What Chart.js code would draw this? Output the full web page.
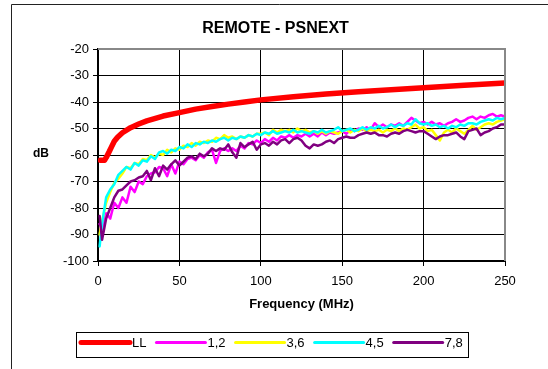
<!DOCTYPE html>
<html>
<head>
<meta charset="utf-8">
<script src="https://cdn.jsdelivr.net/npm/chart.js@4.4.1/dist/chart.umd.min.js"></script>
<style>
  html, body { margin: 0; padding: 0; background: #fff; }
  #wrap { width: 548px; height: 369px; }
</style>
</head>
<body>
<div id="wrap"><canvas id="psnextChart" width="548" height="369"></canvas></div>
<script>
// limit line (LL)
const llFreq = [1.5, 2, 3, 4, 5, 6, 7, 8, 10, 12, 15, 20, 25, 30, 40, 50, 60, 70, 80, 90, 100, 120, 140, 160, 180, 200, 225, 250];
const llValues = [-62, -62, -62, -62, -61, -59.8, -58.6, -57.3, -54.8, -53.3, -51.6, -49.7, -48.3, -47.1, -45.3, -44, -42.7, -41.7, -40.8, -40, -39.2, -38, -37, -36.1, -35.4, -34.6, -33.7, -32.8];

// measured pairs, one point every 2.5 MHz
const freq = [1, 2.5, 5, 7.5, 10, 12.5, 15, 17.5, 20, 22.5, 25, 27.5, 30, 32.5, 35, 37.5, 40, 42.5, 45, 47.5,
  50, 52.5, 55, 57.5, 60, 62.5, 65, 67.5, 70, 72.5, 75, 77.5, 80, 82.5, 85, 87.5, 90, 92.5, 95, 97.5,
  100, 102.5, 105, 107.5, 110, 112.5, 115, 117.5, 120, 122.5, 125, 127.5, 130, 132.5, 135, 137.5, 140, 142.5, 145, 147.5,
  150, 152.5, 155, 157.5, 160, 162.5, 165, 167.5, 170, 172.5, 175, 177.5, 180, 182.5, 185, 187.5, 190, 192.5, 195, 197.5,
  200, 202.5, 205, 207.5, 210, 212.5, 215, 217.5, 220, 222.5, 225, 227.5, 230, 232.5, 235, 237.5, 240, 242.5, 245, 247.5, 250];

const pair12 = [-86, -88, -82, -84, -78, -80, -76, -78, -72, -74, -70, -71, -68, -67, -66.5, -64.5, -65, -68, -63.5, -67,
  -62.5, -63.5, -61.5, -61, -62, -60, -61, -59, -58, -63, -58.5, -57.5, -58.5, -57.5, -58.5, -56.5, -57.5, -55.5, -56, -54.5,
  -55.5, -54, -55, -53.5, -54.5, -53, -53.5, -52.5, -53.5, -52.5, -53, -52, -53, -52, -53, -51.5, -52.5, -51.5, -52, -51.5,
  -51, -52, -50.5, -51, -50, -50.5, -49.5, -50.5, -48, -49.5, -48.5, -49.5, -48.5, -49, -48, -49, -47.5, -46, -47, -48,
  -47.5, -48.5, -47.5, -48.5, -48, -49, -48, -47.5, -46.5, -47.5, -47, -46, -45.5, -46.5, -45.5, -46, -45, -44.5, -45.5, -45, -45.5];

const pair36 = [-90, -85, -78, -74, -70.5, -69, -67, -64.5, -65, -63, -63.5, -61.5, -62, -60, -61, -59.5, -60, -58, -59, -57.5,
  -58, -56.5, -57, -55.5, -56.5, -55, -55.5, -54.5, -55, -53.5, -54, -52.5, -53.5, -53, -54, -53, -53.5, -52.5, -53, -52,
  -52, -51.5, -52.5, -50.5, -51.5, -50.5, -51, -50.5, -51.5, -50, -51, -50.5, -51.5, -51, -52, -51, -52, -51, -51.5, -52,
  -51, -50.5, -51.5, -50.5, -51, -50, -51, -50.5, -51, -50.5, -51.5, -50.5, -51, -50, -51, -50, -50.5, -49.5, -48.5, -50,
  -49.5, -51, -50.5, -52.5, -54.5, -51.5, -50.5, -51.5, -50, -51, -52, -50.5, -49, -50.5, -49.5, -48.5, -48, -48.5, -47.5, -47, -46.5];

const pair45 = [-94.5, -86, -76, -73, -71, -67.5, -66, -64.5, -65.5, -63, -64, -62, -62.5, -60.5, -61.5, -59, -58.5, -59.5, -58, -58.5,
  -57, -57.5, -56, -57, -55.5, -56, -55, -55.5, -54.5, -55, -54, -53.5, -54.5, -53.5, -54, -53, -53.5, -52.5, -53, -52,
  -52.5, -51.5, -52, -51, -52, -51.5, -51, -51.5, -50.5, -51.5, -51, -51.5, -52, -51, -51.5, -50.5, -51.5, -51, -50.5, -49.5,
  -51, -50.5, -50, -51, -50.5, -49.5, -50.5, -49.5, -50, -49, -50, -49.5, -48.5, -49.5, -48.5, -49, -48, -48.5, -46.5, -48,
  -48.5, -48, -49, -48.5, -49.5, -49, -50, -49, -49.5, -48.5, -49, -48, -48, -48.5, -47.5, -47, -46.5, -47, -46, -46.5, -46];

const pair78 = [-83, -92, -84, -80, -76, -73.5, -73, -71.5, -70, -69.5, -68.5, -68, -66, -69.5, -65, -68, -64, -65.5, -63.5, -62,
  -64, -62.5, -61, -60.5, -61.5, -59.5, -60.5, -59.5, -57.5, -58.5, -57.5, -58, -56, -59, -61, -55.5, -57, -56, -55, -58,
  -56, -55.5, -56.5, -55, -56, -54.5, -54, -55.5, -54, -53.5, -54.5, -56.5, -57.5, -56, -56.5, -56, -55, -54.5, -55.5, -54,
  -53.5, -53, -53.5, -53.5, -52.5, -52, -51.5, -52, -51.5, -52.5, -52.5, -53, -52, -51.5, -52, -51, -50.5, -51, -51.5, -51,
  -51, -52, -53, -54, -53, -52.5, -52.5, -52, -51.5, -53, -54, -51, -50.5, -50, -52.5, -51.5, -51, -50, -49.5, -48.5, -48.5];

const yTicks = [-100, -90, -80, -70, -60, -50, -40, -30, -20];
const xTicks = [0, 50, 100, 150, 200, 250];

const seriesLabels = ['LL', '1,2', '3,6', '4,5', '7,8'];
const seriesColors = ['#ff0000', '#ff00ff', '#ffff00', '#00ffff', '#800080'];

const FONT = 'Arial, "Liberation Sans", sans-serif';

function toPoints(xs, ys) {
  return xs.map((x, i) => ({ x: x, y: ys[i] }));
}

const seriesData = [
  toPoints(llFreq, llValues),
  toPoints(freq, pair12),
  toPoints(freq, pair36),
  toPoints(freq, pair45),
  toPoints(freq, pair78)
];

const datasets = seriesData.map((pts, i) => ({
  label: seriesLabels[i],
  data: pts,
  borderColor: seriesColors[i],
  backgroundColor: seriesColors[i],
  borderWidth: i === 0 ? 5.5 : 2.5,
  borderCapStyle: 'round',
  borderJoinStyle: 'round',
  pointRadius: 0,
  tension: 0,
  fill: false,
  order: seriesLabels.length - i // later pairs drawn on top
}));

// frame, titles, plot border and the boxed legend
const decorations = {
  id: 'decorations',
  beforeDraw(chart) {
    const c = chart.ctx;
    c.save();
    c.fillStyle = '#fff';
    c.fillRect(0, 0, chart.width, chart.height);
    c.restore();
  },
  afterDraw(chart) {
    const c = chart.ctx;
    const area = chart.chartArea;
    c.save();
    // outer frame
    c.strokeStyle = '#222';
    c.lineWidth = 1;
    c.beginPath();
    c.moveTo(11.5, chart.height);
    c.lineTo(11.5, 4.5);
    c.lineTo(chart.width, 4.5);
    c.stroke();

    // gray top / right edge of the plot
    c.strokeStyle = '#888';
    c.lineWidth = 2;
    c.beginPath();
    c.moveTo(area.left, area.top);
    c.lineTo(area.right, area.top);
    c.lineTo(area.right, area.bottom);
    c.stroke();

    c.fillStyle = '#000';
    c.textAlign = 'center';
    c.textBaseline = 'middle';

    // chart title
    c.font = 'bold 16px ' + FONT;
    c.fillText('REMOTE - PSNEXT', 275.5, 29);

    // y-axis title, kept horizontal
    c.font = 'bold 12px ' + FONT;
    c.fillText('dB', 41, 154);

    // legend
    c.strokeStyle = '#000';
    c.lineWidth = 1;
    c.strokeRect(76.5, 332.5, 392, 25);
    c.font = '13px ' + FONT;
    c.textAlign = 'left';
    let x = 81;
    const y = 342.5;
    chart.data.datasets.forEach((ds) => {
      c.strokeStyle = ds.borderColor;
      c.lineWidth = ds.borderWidth === 2.5 ? 3 : 5;
      c.lineCap = 'round';
      c.beginPath();
      c.moveTo(x, y);
      c.lineTo(x + 49, y);
      c.stroke();
      c.fillStyle = '#000';
      c.fillText(ds.label, x + 51, y + 1);
      x += 51 + c.measureText(ds.label).width + 10;
    });
    c.restore();
  }
};

const ctx = document.getElementById('psnextChart').getContext('2d');
const psnextChart = new Chart(ctx, {
  type: 'line',
  data: { datasets: datasets },
  options: {
    responsive: false,
    animation: false,
    layout: {
      padding: { left: 38, right: 43, top: 49, bottom: 54 }
    },
    scales: {
      x: {
        type: 'linear',
        min: 0,
        max: 250,
        afterBuildTicks: (scale) => { scale.ticks = xTicks.map(v => ({ value: v })); },
        afterFit: (scale) => { scale.height = 54; },
        grid: { color: '#000', lineWidth: 1, tickLength: 5, drawTicks: true },
        border: { color: '#000', width: 2 },
        ticks: {
          color: '#000',
          padding: 8,
          maxRotation: 0,
          font: { family: FONT, size: 13 }
        },
        title: {
          display: true,
          text: 'Frequency (MHz)',
          color: '#000',
          font: { family: FONT, size: 13, weight: 'bold' },
          padding: { top: 6, bottom: 3 }
        }
      },
      y: {
        type: 'linear',
        min: -100,
        max: -20,
        afterBuildTicks: (scale) => { scale.ticks = yTicks.map(v => ({ value: v })); },
        afterFit: (scale) => { scale.width = 60; },
        grid: { color: '#000', lineWidth: 1, tickLength: 5, drawTicks: true },
        border: { color: '#000', width: 2 },
        ticks: {
          color: '#000',
          padding: 4,
          font: { family: FONT, size: 13 }
        }
      }
    },
    plugins: {
      legend: { display: false },
      tooltip: { enabled: false },
      title: { display: false }
    }
  },
  plugins: [decorations]
});
</script>
</body>
</html>
